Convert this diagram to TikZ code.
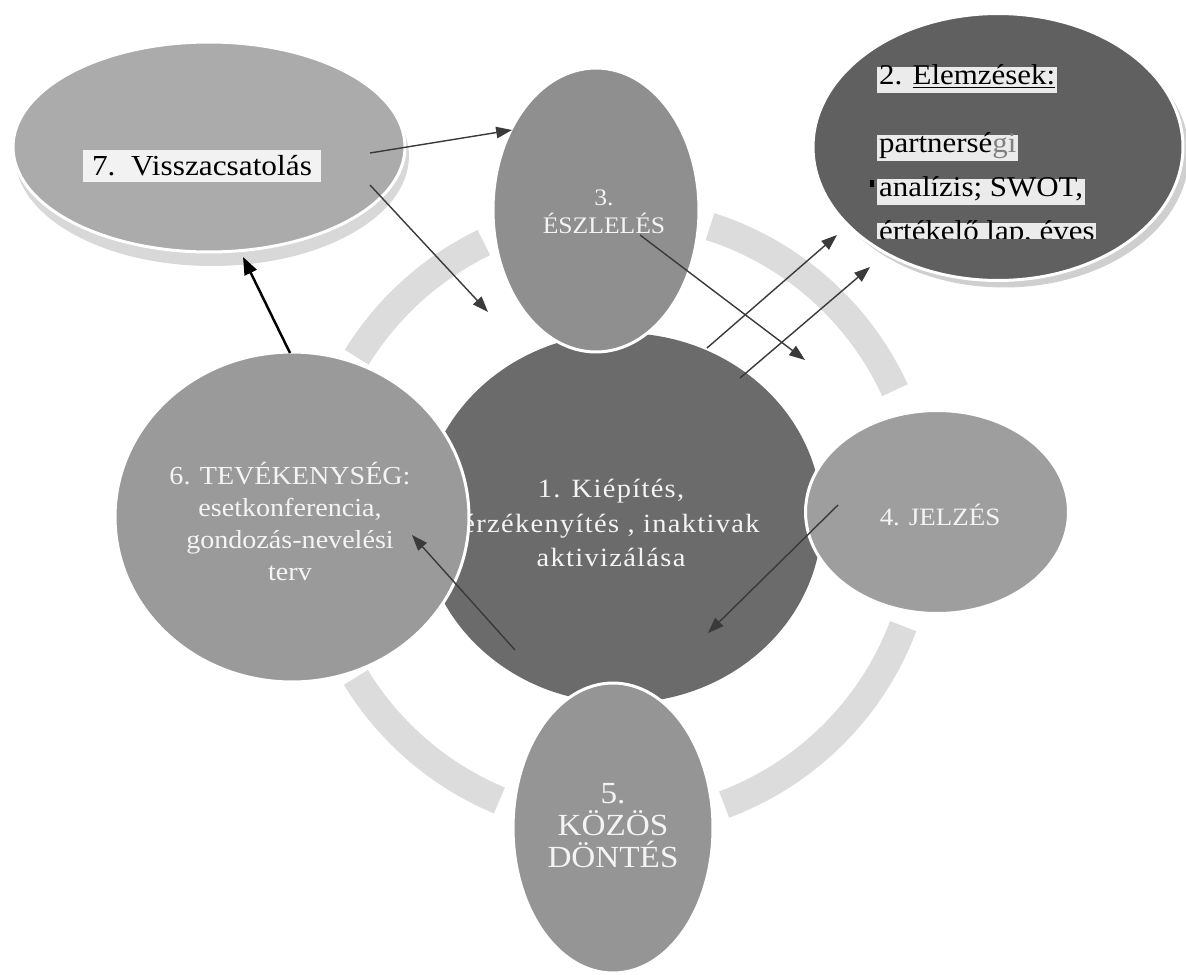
\documentclass[tikz,border=0pt]{standalone}
\usepackage{fontspec}
\setmainfont[FakeStretch=1.08]{Liberation Serif}
\newfontfamily\spaced[FakeStretch=1.08,LetterSpace=5]{Liberation Serif}
\usetikzlibrary{shapes.geometric,arrows.meta}
\definecolor{ringc}{HTML}{DCDCDC}
\definecolor{n1c}{HTML}{6B6B6B}
\definecolor{n2c}{HTML}{606060}
\definecolor{n3c}{HTML}{8F8F8F}
\definecolor{n4c}{HTML}{9E9E9E}
\definecolor{n5c}{HTML}{959595}
\definecolor{n6c}{HTML}{9A9A9A}
\definecolor{n7c}{HTML}{ABABAB}
\definecolor{rimsev}{HTML}{D8D8D8}
\definecolor{rimtwo}{HTML}{CFCFCF}
\definecolor{hlc}{HTML}{EBEBEB}
\definecolor{hlsev}{HTML}{F2F2F2}
\definecolor{arrc}{HTML}{3A3A3A}
\definecolor{txtw}{HTML}{F4F4F4}
\begin{document}
\begin{tikzpicture}[x=0.02cm,y=-0.02cm,
  blob/.style={ellipse,inner sep=0pt,draw=white,line width=1.7pt},
  rim/.style={ellipse,inner sep=0pt,draw=none},
  wtext/.style={text=txtw,align=center,inner sep=0pt},
  ringarc/.style={draw=ringc,line width=16pt},
  arr/.style={draw=arrc,line width=0.8pt,-{Triangle[length=9pt,width=6.5pt]}},
  thickarr/.style={draw=black,line width=1.4pt,-{Triangle[length=10pt,width=7.5pt]}},
  hl/.style={fill=hlc,text=black,anchor=west,inner xsep=1pt,inner ysep=2.5pt,
     text height=0.75em,text depth=0.25em,font=\fontsize{16.3}{19}\selectfont}]
\useasboundingbox[fill=white] (0,0) rectangle (1186,974);

% ring segments
\draw[ringarc] ([shift={(617,518)}]72.3:6.12cm) arc[start angle=72.3,end angle=24.7,radius=6.12cm];
\draw[ringarc] ([shift={(617,518)}]-20.7:6.12cm) arc[start angle=-20.7,end angle=-69.5,radius=6.12cm];
\draw[ringarc] ([shift={(617,518)}]211.4:6.12cm) arc[start angle=211.4,end angle=247.4,radius=6.12cm];
\draw[ringarc] ([shift={(617,518)}]148.3:6.12cm) arc[start angle=148.3,end angle=115.8,radius=6.12cm];

% central node 1
\node[ellipse,inner sep=0pt,fill=n1c,minimum width=8cm,minimum height=7.4cm] (n1) at (622,518) {};
\node[wtext,font=\spaced\fontsize{15}{19.5}\selectfont] (t1) at (611,523) {1. Kiépítés,\\érzékenyítés , inaktivak\\aktivizálása};

% satellites
\node[blob,fill=n3c,minimum width=4.12cm,minimum height=5.68cm] (n3) at (596,210) {};
\node[wtext,font=\fontsize{13.5}{16}\selectfont] (t3) at (604,212) {3.\\ÉSZLELÉS};

\node[blob,fill=n4c,minimum width=5.26cm,minimum height=4.06cm] (n4) at (937,512) {};
\node[wtext,font=\fontsize{14.2}{16}\selectfont] (t4) at (940,515) {4. JELZÉS};

\node[blob,fill=n5c,minimum width=4cm,minimum height=5.8cm] (n5) at (613,828) {};
\node[wtext,font=\fontsize{17.5}{18.2}\selectfont] (t5) at (613,826) {5.\\KÖZÖS\\DÖNTÉS};

\node[blob,fill=n6c,minimum width=7.08cm,minimum height=6.6cm] (n6) at (292,517) {};
\node[wtext,font=\fontsize{14.8}{18.2}\selectfont] (t6) at (290,521) {6. TEVÉKENYSÉG:\\esetkonferencia,\\gondozás-nevelési\\terv};

% node 7
\node[rim,fill=rimsev,minimum width=7.88cm,minimum height=4.4cm] (r7) at (212,156) {};
\node[blob,fill=n7c,minimum width=7.84cm,minimum height=4.2cm] (n7) at (209,147) {};
\node[fill=hlsev,text=black,inner xsep=5pt,inner ysep=3pt,font=\fontsize{16.5}{19}\selectfont] (t7) at (202,166) {7.\ \ Visszacsatolás};

% node 2
\node[rim,fill=rimtwo,minimum width=7.4cm,minimum height=5.34cm] (r2) at (1004,154) {};
\node[blob,fill=n2c,minimum width=7.4cm,minimum height=5.34cm] (n2) at (998,147) {};
\node[hl] (t2a) at (877,80) {2. \underline{Elemzések:}};
\node[hl] (t2b) at (877,148) {partnersé{\color{gray}gi}};
\node[hl] (t2c) at (877,192) {analízis; SWOT,};
\begin{scope}
\clip (860,210) rectangle (1120,238);
\node[hl] (t2d) at (877,236) {értékelő lap, éves};
\end{scope}
\fill[black] (870,180) rectangle (874,187);

% connectors
\coordinate (a1s) at (370,153); \coordinate (a1e) at (512,130);
\coordinate (a2s) at (370,185); \coordinate (a2e) at (488,312);
\coordinate (a3s) at (640,235); \coordinate (a3e) at (805,360);
\coordinate (a4s) at (707,348); \coordinate (a4e) at (837,235);
\coordinate (a5s) at (740,378); \coordinate (a5e) at (870,267);
\coordinate (a6s) at (290,353); \coordinate (a6e) at (243,257);
\coordinate (a7s) at (838,505); \coordinate (a7e) at (708,633);
\coordinate (a8s) at (515,650); \coordinate (a8e) at (412,535);
\draw[arr] (a1s) -- (a1e);
\draw[arr] (a2s) -- (a2e);
\draw[arr] (a3s) -- (a3e);
\draw[arr] (a4s) -- (a4e);
\draw[arr] (a5s) -- (a5e);
\draw[thickarr] (a6s) -- (a6e);
\draw[arr] (a7s) -- (a7e);
\draw[arr] (a8s) -- (a8e);
\end{tikzpicture}
\end{document}
